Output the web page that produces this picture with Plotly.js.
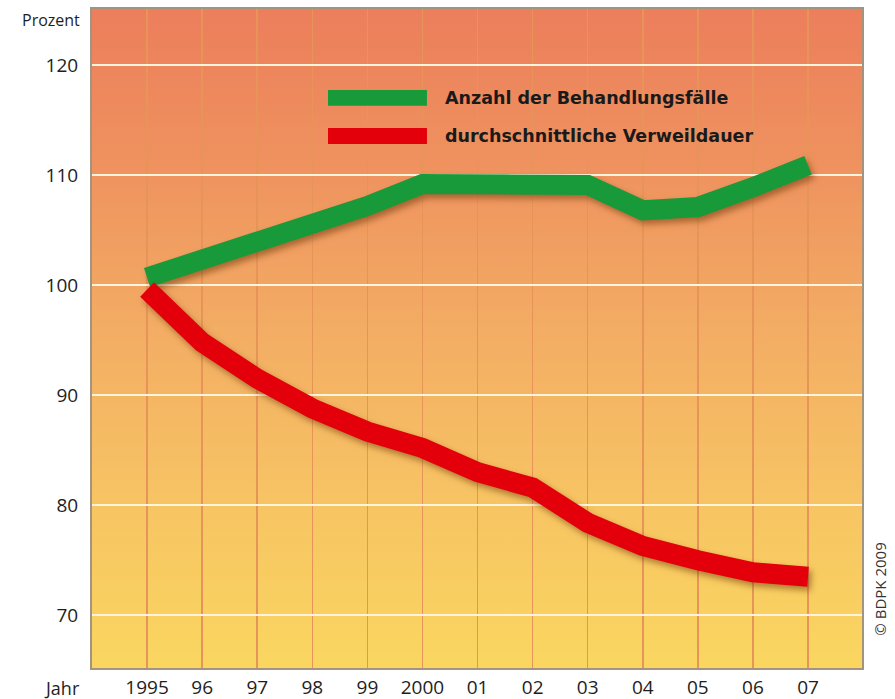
<!DOCTYPE html>
<html>
<head>
<meta charset="utf-8">
<script src="https://cdn.plot.ly/plotly-3.0.1.min.js"></script>
<style>
  html, body { margin: 0; padding: 0; background: #ffffff; }
  #chart { width: 895px; height: 699px; }
</style>
</head>
<body>
<div id="chart"></div>
<script>
// ---- data ----
const years = [1995, 1996, 1997, 1998, 1999, 2000, 2001, 2002, 2003, 2004, 2005, 2006, 2007];
const yearLabels = ["1995", "96", "97", "98", "99", "2000", "01", "02", "03", "04", "05", "06", "07"];
const behandlungsfaelle = [100.7, 102.3, 104.0, 105.5, 107.2, 109.2, 109.2, 109.4, 109.1, 106.8, 107.1, 108.9, 110.9];
const verweildauer = [99.6, 94.8, 91.5, 88.8, 86.7, 85.2, 83.0, 81.6, 78.4, 76.3, 75.0, 73.9, 73.5];
const yTicks = [70, 80, 90, 100, 110, 120];
const seriesNames = ["Anzahl der Behandlungsfälle", "durchschnittliche Verweildauer"];

const GREEN = "#189A3A";
const RED = "#E4000B";
const FONT = "Open Sans, Noto Sans, sans-serif";
const BOLDFONT = "DejaVu Sans, Open Sans, sans-serif";

const gradSvg =
  '<svg xmlns="http://www.w3.org/2000/svg" width="100" height="100" preserveAspectRatio="none">' +
  '<defs><linearGradient id="g" x1="0" y1="0" x2="0" y2="1">' +
  '<stop offset="0" stop-color="#EC7E5C"/>' +
  '<stop offset="0.25" stop-color="#EF935F"/>' +
  '<stop offset="0.5" stop-color="#F3AE64"/>' +
  '<stop offset="0.75" stop-color="#F7C463"/>' +
  '<stop offset="1" stop-color="#FAD660"/>' +
  '</linearGradient></defs><rect width="100" height="100" fill="url(#g)"/></svg>';
const gradUri = "data:image/svg+xml;base64," + btoa(gradSvg);

const traces = [
  {
    x: years, y: behandlungsfaelle, name: seriesNames[0],
    mode: "lines", type: "scatter",
    line: { color: GREEN, width: 20 },
    hoverinfo: "skip"
  },
  {
    x: years, y: verweildauer, name: seriesNames[1],
    mode: "lines", type: "scatter",
    line: { color: RED, width: 20 },
    hoverinfo: "skip"
  }
];

const layout = {
  width: 895, height: 699,
  margin: { l: 92, r: 33, t: 9, b: 31 },
  paper_bgcolor: "#ffffff",
  plot_bgcolor: "rgba(0,0,0,0)",
  showlegend: false,
  font: { family: FONT, color: "#1e1e1e" },
  xaxis: {
    range: [1994.0, 2007.98],
    tickvals: years, ticktext: yearLabels,
    showgrid: true, gridcolor: "#E69458", gridwidth: 1.5,
    zeroline: false,
    showline: true, linecolor: "#A39480", linewidth: 2, mirror: true,
    ticks: "", ticklabelstandoff: 1,
    tickfont: { size: 19, family: FONT, color: "#1e1e1e" }
  },
  yaxis: {
    range: [65.2, 125.1],
    tickvals: yTicks,
    showgrid: true, gridcolor: "#FFF4DE", gridwidth: 2,
    zeroline: false,
    showline: true, linecolor: "#A39480", linewidth: 2, mirror: true,
    ticks: "", ticklabelstandoff: 8,
    tickfont: { size: 19, family: FONT, color: "#1e1e1e" }
  },
  images: [{
    source: gradUri, xref: "paper", yref: "paper",
    x: 0, y: 1, sizex: 1, sizey: 1, sizing: "stretch",
    xanchor: "left", yanchor: "top", layer: "below"
  }],
  shapes: [
    { type: "rect", xref: "paper", yref: "paper", x0: 0.3065, x1: 0.435, y0: 0.853, y1: 0.877,
      fillcolor: GREEN, line: { width: 0 } },
    { type: "rect", xref: "paper", yref: "paper", x0: 0.3065, x1: 0.435, y0: 0.7951, y1: 0.8194,
      fillcolor: RED, line: { width: 0 } }
  ],
  annotations: [
    { text: "<b>" + seriesNames[0] + "</b>", xref: "paper", yref: "paper", x: 0.4558, y: 0.865,
      xanchor: "left", yanchor: "middle", showarrow: false,
      font: { size: 17.5, family: BOLDFONT, color: "#1a1a1a" } },
    { text: "<b>" + seriesNames[1] + "</b>", xref: "paper", yref: "paper", x: 0.4558, y: 0.807,
      xanchor: "left", yanchor: "middle", showarrow: false,
      font: { size: 17.5, family: BOLDFONT, color: "#1a1a1a" } },
    { text: "Prozent", xref: "paper", yref: "paper", x: -0.013, y: 0.983,
      xanchor: "right", yanchor: "middle", showarrow: false,
      font: { size: 16, family: FONT, color: "#1e1e1e" } },
    { text: "Jahr", xref: "paper", yref: "paper", x: -0.013, y: -0.030,
      xanchor: "right", yanchor: "middle", showarrow: false,
      font: { size: 18, family: FONT, color: "#1e1e1e" } },
    { text: "© BDPK 2009", xref: "paper", yref: "paper", x: 1.023, y: 0.12,
      xanchor: "center", yanchor: "middle", showarrow: false, textangle: -90,
      font: { size: 15, family: FONT, color: "#333333" } }
  ]
};

Plotly.newPlot("chart", traces, layout, { staticPlot: true, displayModeBar: false }).then(function () {
  document.querySelectorAll(".scatterlayer .js-line").forEach(function (p) {
    p.style.filter = "drop-shadow(3px 4px 3px rgba(100,45,0,0.5))";
    p.style.strokeLinejoin = "miter";
    p.style.strokeLinecap = "butt";
  });
});
</script>
</body>
</html>
